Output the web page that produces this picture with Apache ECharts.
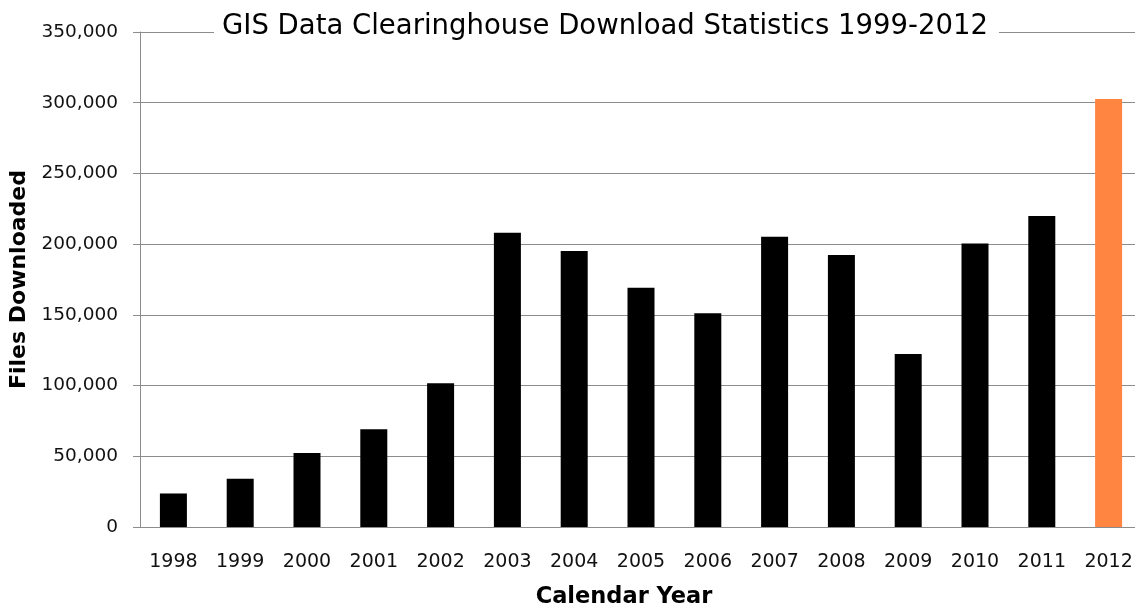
<!DOCTYPE html>
<html>
<head>
<meta charset="utf-8">
<title>GIS Data Clearinghouse Download Statistics</title>
<script src="https://cdn.jsdelivr.net/npm/echarts@6/dist/echarts.min.js"></script>
<style>
  html, body { margin: 0; padding: 0; background: #fff; }
  #chart { width: 1135px; height: 609px; }
</style>
</head>
<body>
<div id="chart"></div>
<script>
// values
const years     = ['1998', '1999', '2000', '2001', '2002', '2003', '2004', '2005',
                   '2006', '2007', '2008', '2009', '2010', '2011', '2012']
const downloads = [23700, 34100, 52300, 69200, 101700, 208000, 195100, 169200,
                   151100, 205200, 192300, 122400, 200500, 219900, 302700]
const highlightYear = '2012'

const barColor  = '#000000'
const hiColor   = '#ff8540'
const gridColor = '#8c8c8c'

const barData = downloads.map((v, i) => ({
	value: v,
	itemStyle: { color: years[i] === highlightYear ? hiColor : barColor }
}))

const chart = echarts.init(document.getElementById('chart'))
chart.setOption({
	animation: false,
	title: {
		text: 'GIS Data Clearinghouse Download Statistics 1999-2012',
		left: 214,
		top: 11,
		backgroundColor: '#fff',
		padding: [2, 11, 2, 8],
		textStyle: {
			fontFamily: 'DejaVu Sans',
			fontSize: 27.5,
			fontWeight: 'normal',
			color: '#000'
		}
	},
	grid: {
		left: 140,
		right: -7,
		top: 32,
		bottom: 82,
		outerBoundsMode: 'none'
	},
	xAxis: {
		type: 'category',
		data: years,
		name: 'Calendar Year',
		nameLocation: 'middle',
		nameGap: 59,
		nameTextStyle: {
			fontFamily: 'DejaVu Sans',
			fontSize: 22.5,
			fontWeight: 'bold',
			color: '#000',
			padding: [0, 34, 0, 0]
		},
		axisLine: { lineStyle: { color: gridColor, width: 1 } },
		axisTick: { length: 8, lineStyle: { color: gridColor } },
		axisLabel: {
			margin: 26,
			fontFamily: 'DejaVu Sans',
			fontSize: 19,
			color: '#111'
		}
	},
	yAxis: {
		type: 'value',
		min: 0,
		max: 350000,
		interval: 50000,
		name: 'Files Downloaded',
		nameLocation: 'middle',
		nameGap: 104,
		nameTextStyle: {
			fontFamily: 'DejaVu Sans',
			fontSize: 22,
			fontWeight: 'bold',
			color: '#000'
		},
		axisLine: { show: true, lineStyle: { color: gridColor, width: 1 } },
		axisTick: { show: true, length: 7, lineStyle: { color: gridColor } },
		splitLine: { lineStyle: { color: gridColor, width: 1 } },
		axisLabel: {
			margin: 22,
			fontFamily: 'DejaVu Sans',
			fontSize: 18.5,
			color: '#111',
			formatter: v => v.toLocaleString('en-US')
		}
	},
	series: [{
		type: 'bar',
		data: barData,
		barWidth: 27
	}]
})
</script>
</body>
</html>
